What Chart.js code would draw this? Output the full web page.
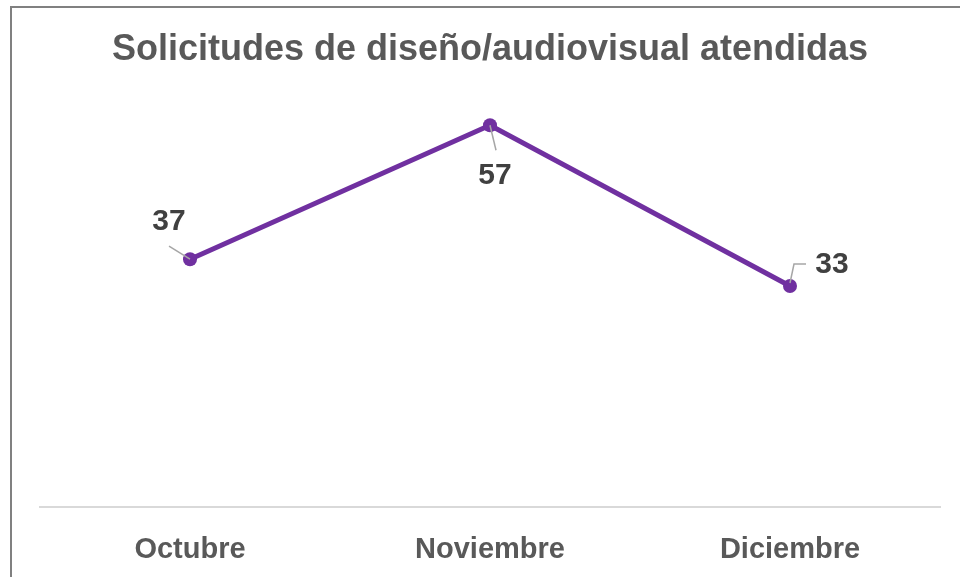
<!DOCTYPE html>
<html>
<head>
<meta charset="utf-8">
<script src="https://cdn.jsdelivr.net/npm/chart.js@4/dist/chart.umd.min.js"></script>
<style>
  html, body { margin: 0; padding: 0; background: #fff; }
  #wrap { position: relative; width: 960px; height: 577px; overflow: hidden; }
  #frame { position: absolute; left: 10px; top: 6px; width: 1000px; height: 600px;
           border-top: 2px solid #808080; border-left: 2px solid #808080; }
  canvas { position: absolute; left: 0; top: 0; }
</style>
</head>
<body>
<div id="wrap">
  <div id="frame"></div>
  <canvas id="chart" width="960" height="577"></canvas>
</div>
<script>
// datos del gráfico
const meses = ['Octubre', 'Noviembre', 'Diciembre'];
const solicitudes = [37, 57, 33];
const titulo = 'Solicitudes de diseño/audiovisual atendidas';

// posición de cada etiqueta respecto a su punto (dx, dy) y guía
const etiquetas = [
  { dx: -21, dy: -37, guia: [[-21, -13], [0, 0]] },
  { dx: 5, dy: 50, guia: [[0, 0], [6, 25]] },
  { dx: 42, dy: -21, guia: [[0, -3], [4, -22], [16, -22]] }
];

const fuente = '"Liberation Sans", Arial, sans-serif';

// plugin sencillo para las etiquetas con línea guía
const etiquetasPlugin = {
  id: 'etiquetas',
  afterDatasetsDraw(chart) {
    const ctx = chart.ctx;
    const meta = chart.getDatasetMeta(0);
    ctx.save();
    meta.data.forEach((pt, i) => {
      const e = etiquetas[i];
      ctx.strokeStyle = '#a6a6a6';
      ctx.lineWidth = 1.5;
      ctx.beginPath();
      e.guia.forEach((p, j) => {
        if (j === 0) ctx.moveTo(pt.x + p[0], pt.y + p[1]);
        else ctx.lineTo(pt.x + p[0], pt.y + p[1]);
      });
      ctx.stroke();
      ctx.fillStyle = '#404040';
      ctx.font = 'bold 30px ' + fuente;
      ctx.textAlign = 'center';
      ctx.textBaseline = 'middle';
      ctx.fillText(String(solicitudes[i]), pt.x + e.dx, pt.y + e.dy);
    });
    ctx.restore();
  }
};

new Chart(document.getElementById('chart'), {
  type: 'line',
  data: {
    labels: meses,
    datasets: [{
      data: solicitudes,
      borderColor: '#7030A0',
      backgroundColor: '#7030A0',
      borderWidth: 5,
      pointRadius: 7,
      pointBorderWidth: 0,
      tension: 0,
      clip: false
    }]
  },
  options: {
    responsive: false,
    animation: false,
    layout: { padding: { left: 40, right: 20, top: 0, bottom: 0 } },
    plugins: {
      legend: { display: false },
      tooltip: { enabled: false },
      title: {
        display: true,
        text: titulo,
        color: '#595959',
        font: { family: fuente, size: 36, weight: 'bold' },
        padding: { top: 28, bottom: 34 }
      }
    },
    scales: {
      x: {
        offset: true,
        grid: { display: false, drawTicks: false },
        border: { display: true, color: '#d9d9d9', width: 2 },
        ticks: {
          color: '#595959',
          padding: 26,
          font: { family: fuente, size: 29, weight: 'bold' }
        },
        afterFit(scale) { scale.height = 70; }
      },
      y: {
        display: false,
        min: 0,
        max: 60
      }
    }
  },
  plugins: [etiquetasPlugin]
});
</script>
</body>
</html>
